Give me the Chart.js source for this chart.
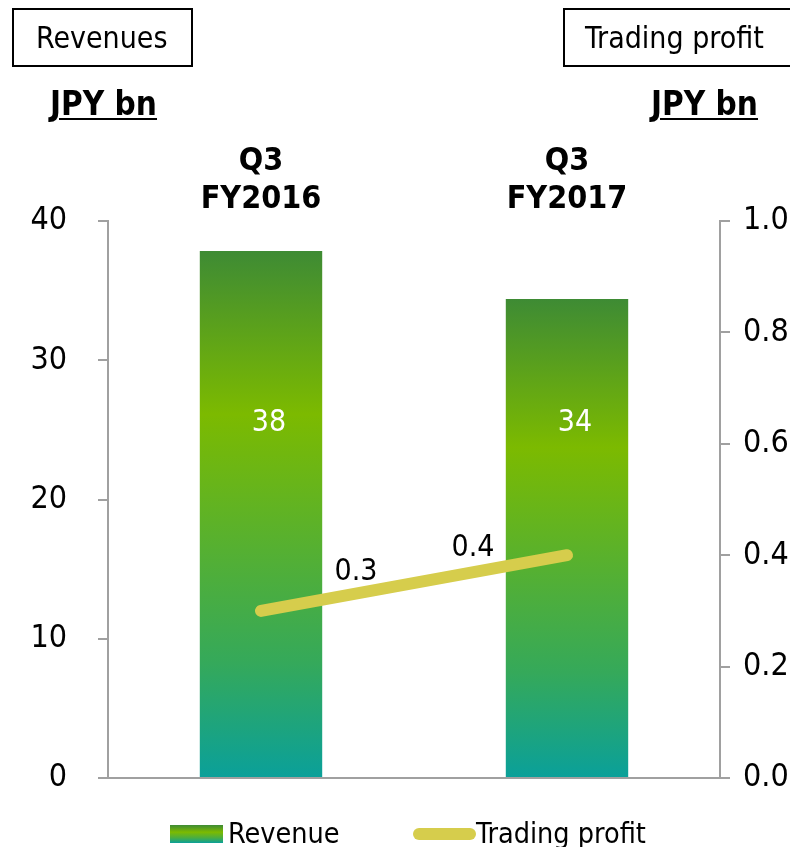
<!DOCTYPE html>
<html>
<head>
<meta charset="utf-8">
<script src="https://cdn.jsdelivr.net/npm/chart.js@4.4.1/dist/chart.umd.min.js"></script>
<style>
  html, body { margin: 0; padding: 0; background: #fff; }
  body { width: 790px; height: 847px; overflow: hidden; position: relative;
         font-family: "DejaVu Sans Condensed", "DejaVu Sans", sans-serif; color: #000; }
  #wrap { position: absolute; left: 0; top: 0; width: 840px; height: 847px; }
  .box { position: absolute; top: 8px; height: 59px; border: 2px solid #000; box-sizing: border-box;
         font-size: 30px; line-height: 55px; white-space: nowrap; }
  .unit { position: absolute; top: 84px; font-size: 33px; font-weight: bold;
          text-decoration: underline; text-decoration-thickness: 2px; text-underline-offset: 3px;
          white-space: nowrap; }
  .legend { position: absolute; top: 816px; height: 36px; font-size: 28.5px; line-height: 36px;
            white-space: nowrap; }
  .sw-bar { position: absolute; top: 9px; width: 53px; height: 18px;
            background: linear-gradient(#3e8b34, #7cba00 40%, #4cae3e 70%, #0aa09a); }
  .sw-line { position: absolute; top: 12px; width: 63px; height: 12px; border-radius: 6px; background: #d6cd4c; }
</style>
</head>
<body>
<div id="wrap"><canvas id="chart" width="840" height="847"></canvas></div>

<div class="box" style="left:12px; width:181px; padding-left:22px;">Revenues</div>
<div class="box" style="left:563px; width:260px; padding-left:20px;">Trading profit</div>
<div class="unit" style="left:50px;">JPY bn</div>
<div class="unit" style="left:651px;">JPY bn</div>

<div class="legend" style="left:170px;"><span class="sw-bar" style="left:0;"></span><span style="position:absolute; left:58px;">Revenue</span></div>
<div class="legend" style="left:413px;"><span class="sw-line" style="left:0;"></span><span style="position:absolute; left:63px;">Trading profit</span></div>

<script>
// chart data
const categories = [['Q3', 'FY2016'], ['Q3', 'FY2017']];
const revenue = [37.85, 34.4];
const revenueLabels = ['38', '34'];
const tradingProfit = [0.3, 0.4];
const profitLabels = ['0.3', '0.4'];

const leftTicks = [0, 10, 20, 30, 40];
const rightTicks = [0, 0.2, 0.4, 0.6, 0.8, 1.0];

const FONT = '"DejaVu Sans Condensed", "DejaVu Sans", sans-serif';
const AXIS_GREY = '#a0a0a0';

// gradient runs from each bar's top to its base
function barGradient(ctx) {
    const chart = ctx.chart;
    if (!chart.chartArea || ctx.type !== 'data') return '#7cba00';
    const y = chart.scales.y;
    const top = y.getPixelForValue(ctx.raw);
    const bottom = y.getPixelForValue(0);
    const g = chart.ctx.createLinearGradient(0, top, 0, bottom);
    g.addColorStop(0, '#3e8b34');
    g.addColorStop(0.31, '#7cba00');
    g.addColorStop(0.62, '#4dae3c');
    g.addColorStop(0.78, '#35a95a');
    g.addColorStop(1, '#0aa09a');
    return g;
}

// value labels: white inside the bars, black next to the line
const valueLabels = {
    id: 'valueLabels',
    afterDatasetsDraw(chart) {
        const c = chart.ctx;
        c.save();
        c.font = '30px ' + FONT;
        c.textAlign = 'center';
        c.textBaseline = 'middle';

        const bars = chart.getDatasetMeta(0).data;
        c.fillStyle = '#fff';
        bars.forEach((bar, i) => {
            c.fillText(revenueLabels[i], bar.x + 8, chart.scales.y.getPixelForValue(25.5));
        });

        const pts = chart.getDatasetMeta(1).data;
        const offsets = [[95, -39], [-94, -7]];
        c.fillStyle = '#000';
        pts.forEach((p, i) => {
            c.fillText(profitLabels[i], p.x + offsets[i][0], p.y + offsets[i][1]);
        });
        c.restore();
    }
};

new Chart(document.getElementById('chart'), {
    data: {
        labels: categories,
        datasets: [
            {
                type: 'bar',
                label: 'Revenue',
                data: revenue,
                yAxisID: 'y',
                backgroundColor: barGradient,
                barPercentage: 0.4,
                categoryPercentage: 1,
                order: 2
            },
            {
                type: 'line',
                label: 'Trading profit',
                data: tradingProfit,
                yAxisID: 'y1',
                borderColor: '#d6cd4c',
                borderWidth: 12,
                borderCapStyle: 'round',
                pointRadius: 0,
                order: 1
            }
        ]
    },
    options: {
        responsive: false,
        animation: false,
        devicePixelRatio: 1,
        layout: { padding: { left: 0, right: 0, top: 0, bottom: 69 } },
        plugins: {
            legend: { display: false },
            tooltip: { enabled: false }
        },
        scales: {
            x: {
                position: 'top',
                offset: true,
                grid: { display: false, drawTicks: false },
                border: { display: false },
                ticks: {
                    color: '#000',
                    padding: 2,
                    font: { family: FONT, size: 32, weight: 'bold', lineHeight: 1.2 }
                },
                afterFit(scale) { scale.height = 221; }
            },
            y: {
                position: 'left',
                min: 0,
                max: 40,
                afterBuildTicks(scale) { scale.ticks = leftTicks.map(v => ({ value: v })); },
                grid: {
                    color: ctx => (ctx.tick && ctx.tick.value === 0 ? AXIS_GREY : 'transparent'),
                    tickColor: AXIS_GREY,
                    tickLength: 10,
                    lineWidth: 2
                },
                border: { display: true, color: AXIS_GREY, width: 2 },
                ticks: {
                    color: '#000',
                    padding: 31,
                    font: { family: FONT, size: 32 }
                },
                afterFit(scale) { scale.width = 108; }
            },
            y1: {
                position: 'right',
                min: 0,
                max: 1,
                afterBuildTicks(scale) { scale.ticks = rightTicks.map(v => ({ value: v })); },
                grid: {
                    drawOnChartArea: false,
                    tickColor: AXIS_GREY,
                    tickLength: 10,
                    lineWidth: 2
                },
                border: { display: true, color: AXIS_GREY, width: 2 },
                ticks: {
                    color: '#000',
                    padding: 13,
                    font: { family: FONT, size: 32 },
                    callback: v => Number(v).toFixed(1)
                },
                afterFit(scale) { scale.width = 120; }
            }
        }
    },
    plugins: [valueLabels]
});
</script>
</body>
</html>
